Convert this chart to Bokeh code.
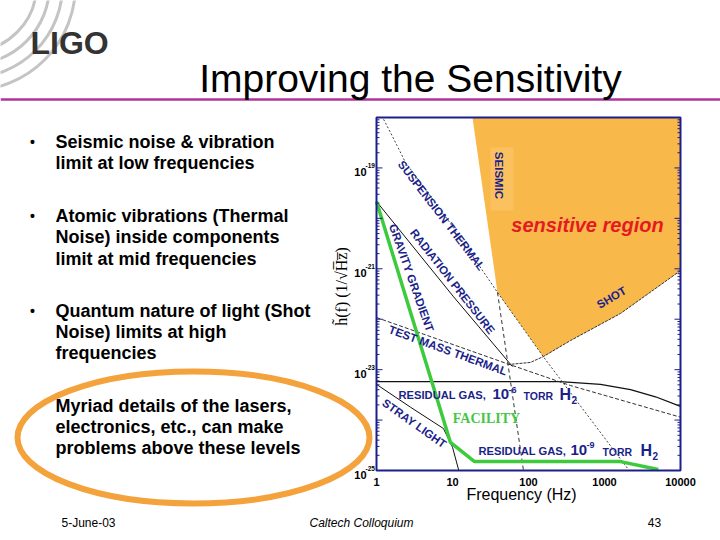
from bokeh.plotting import figure
from bokeh.models import Range1d, LogScale, Label
from bokeh.embed import file_html
from bokeh.resources import INLINE
import math

# ---------------- data ----------------
FREQ_TICKS = [1, 10, 100, 1000, 10000]
FREQ_TICK_LABELS = ["1", "10", "100", "1000", "10000"]
STRAIN_TICKS = [1e-19, 1e-21, 1e-23, 1e-25]
STRAIN_TICK_EXP = ["-19", "-21", "-23", "-25"]
F_MIN, F_MAX = 1.0, 1e4
H_MIN, H_MAX = 1e-25, 1e-18

FACILITY_F = [1.0, 9.4, 19.5, 1620, 5100]
FACILITY_H = [2.16e-20, 3.6e-25, 1.5e-25, 1.5e-25, 1.05e-25]

RADPRES_F = [1.0, 10.3, 61.5]
RADPRES_H = [2.16e-20, 2.8e-22, 1.15e-23]

SUSP_F = [1.24, 1.53, 1.87, 2.41, 3.79, 9.41, 39.1, 157, 2010]
SUSP_H = [9.2e-19, 5.0e-19, 2.75e-19, 1.28e-19, 5.1e-20, 7.9e-21, 3.4e-22, 1.8e-23, 1.1e-25]

SEISMIC_F = [18.3, 39.1, 85.9]
SEISMIC_H = [1e-18, 3.4e-22, 1e-25]

TESTMASS_F = [1.0, 52.5, 357, 10000]
TESTMASS_H = [1.08e-22, 1.31e-23, 4.84e-24, 1.14e-24]

SHOT_F = [53, 106, 157, 357, 1625, 10000]
SHOT_H = [1.26e-23, 1.39e-23, 1.82e-23, 3.78e-23, 1.30e-22, 9.2e-22]

RESGAS6_F = [1.0, 263, 885, 2200, 4690, 10000]
RESGAS6_H = [5.8e-24, 5.8e-24, 5.1e-24, 4.0e-24, 2.9e-24, 1.86e-24]

STRAY_F = [1.0, 2.8, 7.6, 10, 12.1]
STRAY_H = [5.1e-24, 1.8e-24, 6.8e-25, 2.9e-25, 1e-25]

SENS_F = [18.3, 39.1, 157, 357, 1625, 10000, 10000]
SENS_H = [1e-18, 3.4e-22, 1.8e-23, 3.78e-23, 1.30e-22, 9.2e-22, 1e-18]

BULLETS = [
    ["Seismic noise & vibration", "limit at low frequencies"],
    ["Atomic vibrations (Thermal", "Noise) inside components", "limit at mid frequencies"],
    ["Quantum nature of light (Shot", "Noise) limits at high", "frequencies"],
    ["Myriad details of the lasers,", "electronics, etc., can make", "problems above these levels"],
]

# ---------------- layout (slide pixel coordinates) ----------------
X0, X1, Y0, Y1 = 0, 720, 0, 540          # canvas in slide px
CL, CR, CT, CB = 376, 680, 117, 470       # chart frame in slide px
ppx = (CR - CL) / (math.log10(F_MAX) - math.log10(F_MIN))
ppy = (CB - CT) / (math.log10(H_MAX) - math.log10(H_MIN))
f_lo = 10 ** (math.log10(F_MIN) - (CL - X0) / ppx)
f_hi = 10 ** (math.log10(F_MAX) + (X1 - CR) / ppx)
h_lo = 10 ** (math.log10(H_MIN) - (Y1 - CB) / ppy)
h_hi = 10 ** (math.log10(H_MAX) + (CT - Y0) / ppy)

p = figure(width=X1 - X0, height=Y1 - Y0, x_range=Range1d(X0, X1), y_range=Range1d(Y1, Y0),
           toolbar_location=None, output_backend="svg", min_border=0,
           x_axis_location=None, y_axis_location=None, outline_line_color=None)
p.grid.visible = False
p.background_fill_color = "white"
p.border_fill_color = "white"
p.extra_x_ranges = {"f": Range1d(f_lo, f_hi)}
p.extra_x_scales = {"f": LogScale()}
p.extra_y_ranges = {"h": Range1d(h_lo, h_hi)}
p.extra_y_scales = {"h": LogScale()}

NAVY = "#1B1F8A"
LOG = dict(x_range_name="f", y_range_name="h")


def lab(x, y, text, size, color="black", style="normal", font="Liberation Sans",
        angle=0, align="center", baseline="middle", xr="default", yr="default"):
    p.add_layout(Label(x=x, y=y, text=text, text_font=font, text_font_size=f"{size}px",
                       text_font_style=style, text_color=color, angle=angle,
                       angle_units="deg", text_align=align, text_baseline=baseline,
                       x_range_name=xr, y_range_name=yr))


# ---------------- slide decorations ----------------
for r in [66, 79, 92, 105]:
    p.circle(x=[-30], y=[-15], radius=r, fill_color=None, line_color="#C4C4C4", line_width=3)
lab(30, 42, "LIGO", 32, color="#333333", style="bold", align="left")
lab(410, 77.5, "Improving the Sensitivity", 39, color="black")
p.line([X0, X1], [99, 99], line_color="#B0359A", line_width=2.5)

p.ellipse(x=[193], y=[437], width=352, height=132, fill_color=None,
          line_color="#F4A23C", line_width=6)

ys = [[141, 162], [215, 236, 258], [310, 331, 352], [405, 426, 447]]
for i, (lines, yy) in enumerate(zip(BULLETS, ys)):
    if i < 3:
        lab(32, yy[0], "\u2022", 14, style="bold")
    for t, y in zip(lines, yy):
        lab(55, y, t, 18, style="bold", align="left")

lab(88, 522, "5-June-03", 12)
lab(361, 522, "Caltech Colloquium", 12, style="italic")
lab(654, 522, "43", 12)

# ---------------- chart ----------------
p.quad(left=[F_MIN], right=[F_MAX], bottom=[H_MIN], top=[H_MAX], fill_color="white",
       line_color=None, **LOG)
p.patch(SENS_F, SENS_H, fill_color="#F9B84A", line_color=None, **LOG)
p.quad(left=[490], right=[513], top=[147], bottom=[210], fill_color="#FBC15E", line_color=None)

p.line(RESGAS6_F, RESGAS6_H, line_color="#111111", line_width=1.3, **LOG)
p.line(TESTMASS_F, TESTMASS_H, line_color="#333333", line_width=1, line_dash="4 2", **LOG)
p.line(SUSP_F, SUSP_H, line_color="#444444", line_width=1, line_dash="2 2", **LOG)
p.line(SEISMIC_F[1:], SEISMIC_H[1:], line_color="#333333", line_width=1, line_dash="4 3", **LOG)
p.line(SHOT_F, SHOT_H, line_color="#333333", line_width=1, line_dash="3 1", **LOG)
p.line(RADPRES_F, RADPRES_H, line_color="#111111", line_width=1, **LOG)
p.line(STRAY_F, STRAY_H, line_color="#111111", line_width=1, **LOG)
p.line(FACILITY_F, FACILITY_H, line_color="#3DCB3D", line_width=3.5, **LOG)

# frame + ticks
p.quad(left=[F_MIN], right=[F_MAX], bottom=[H_MIN], top=[H_MAX], fill_color=None,
       line_color=NAVY, line_width=2, **LOG)
maj = [10.0 ** d for d in range(-25, -18)]
mnr = [k * 10.0 ** d for d in range(-25, -18) for k in range(2, 10)]
for vals, ln in [(maj, 6), (mnr, 3)]:
    p.segment(x0=[CL] * len(vals), x1=[CL + ln] * len(vals), y0=vals, y1=vals,
              line_color=NAVY, line_width=1, y_range_name="h")
    p.segment(x0=[CR - ln] * len(vals), x1=[CR] * len(vals), y0=vals, y1=vals,
              line_color=NAVY, line_width=1, y_range_name="h")

for v, e in zip(STRAIN_TICKS, STRAIN_TICK_EXP):
    lab(366, v, "10", 11, style="bold", align="right", baseline="top", yr="h")
    lab(365, v, e, 6.5, style="bold", align="left", baseline="bottom", yr="h")
for v, t in zip(FREQ_TICKS, FREQ_TICK_LABELS):
    lab(v, 481, t, 11, style="bold", xr="f")
lab(521, 494, "Frequency (Hz)", 16)
lab(341, 284, "h\u0303(f)  (1/\u221aH\u0305z\u0305)", 16, font="Liberation Serif", angle=90)

# curve labels
lab(441, 215, "SUSPENSION THERMAL", 11.5, NAVY, "bold", angle=-52.5)
lab(498.5, 175, "SEISMIC", 11.5, NAVY, "bold", angle=-90)
lab(587, 224, "sensitive region", 20, "#E31B23", "bold italic")
lab(611, 297, "SHOT", 11.5, NAVY, "bold", angle=30.5)
lab(452, 281, "RADIATION PRESSURE", 11.5, NAVY, "bold", angle=-52)
lab(411, 277.5, "GRAVITY GRADIENT", 11.5, NAVY, "bold", angle=-70.5)
lab(447.5, 350, "TEST MASS THERMAL", 11.5, NAVY, "bold", angle=-20)
lab(414, 423, "STRAY LIGHT", 11.5, NAVY, "bold", angle=-35.4)
lab(486, 418, "FACILITY", 14, "#44C844", "bold", font="Liberation Serif")

for (x_rg, x10, xe, xt, xh, yc, ye, e) in [(398, 492, 508, 523, 559, 394, 389.5, "-6"),
                                          (478, 570, 586, 602, 640, 450, 444.5, "-9")]:
    lab(x_rg, yc, "RESIDUAL GAS,", 11.2, NAVY, "bold", align="left")
    lab(x10, yc - 1, "10", 15, NAVY, "bold", align="left")
    lab(xe, ye, e, 9, NAVY, "bold", align="left")
    lab(xt, yc + 1, "TORR", 10.5, NAVY, "bold", align="left")
    lab(xh, yc, "H", 16, NAVY, "bold", align="left")
    lab(xh + 12, yc + 5, "2", 10, NAVY, "bold", align="left")

open("out.html", "w").write(file_html(p, INLINE))
